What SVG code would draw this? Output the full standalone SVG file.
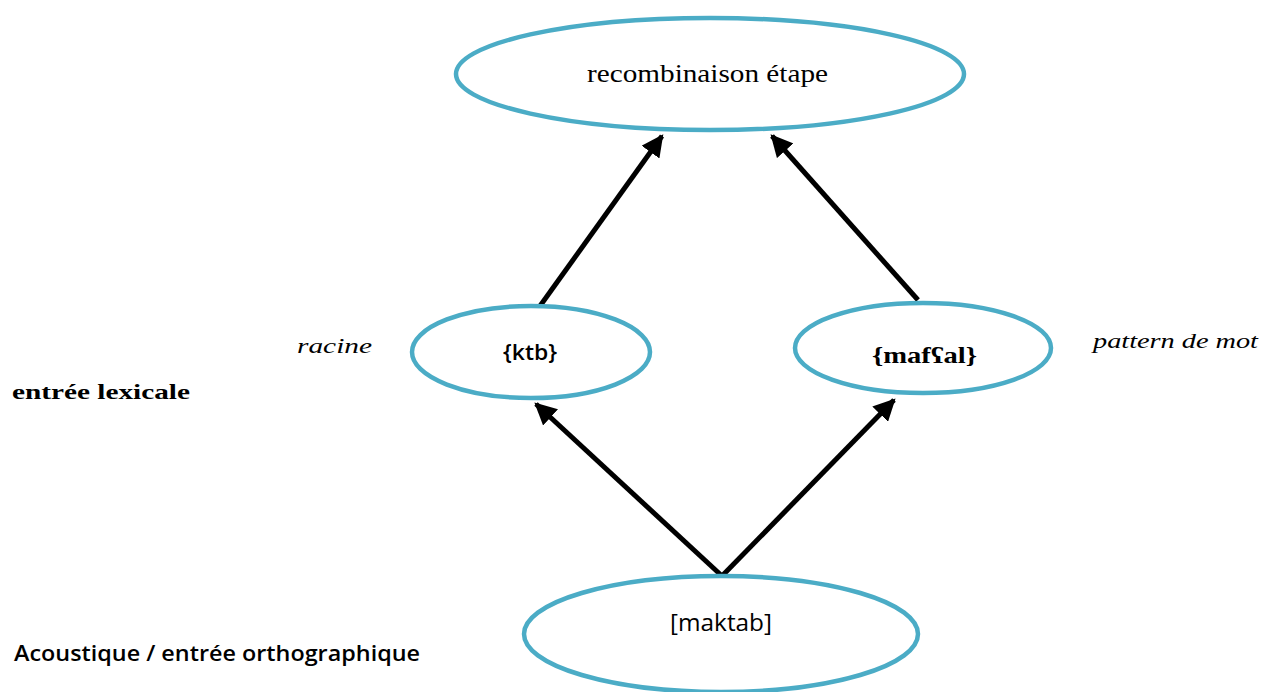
<svg xmlns="http://www.w3.org/2000/svg" width="1270" height="692" viewBox="0 0 1270 692">
<defs>
<marker id="ah" viewBox="0 0 10 10" refX="9" refY="5" markerWidth="4.4" markerHeight="4.4" markerUnits="strokeWidth" orient="auto">
<path d="M0,0 L10,5 L0,10 z" fill="#000"/>
</marker>
</defs>
<style>
.node{fill:#fff;stroke:#4BACC6;stroke-width:4.5}
.edge{stroke:#000;stroke-width:5;fill:none;marker-end:url(#ah)}
.serif{font-family:"Liberation Serif","Times New Roman",serif;fill:#000}
.sans{font-family:"Open Sans","Liberation Sans",Arial,sans-serif;fill:#000}
</style>
<rect width="1270" height="692" fill="#fff"/>
<g id="connectors">
<line class="edge" x1="540" y1="306" x2="662" y2="136"/>
<line class="edge" x1="918" y1="300" x2="772" y2="136"/>
<line class="edge" x1="722" y1="576" x2="536" y2="404"/>
<line class="edge" x1="722" y1="576" x2="894" y2="400"/>
</g>
<g id="node-recombinaison">
<ellipse class="node" cx="710" cy="74" rx="254" ry="56"/>
<text class="serif" x="587" y="82" font-size="25" textLength="241" lengthAdjust="spacingAndGlyphs">recombinaison étape</text>
</g>
<g id="node-ktb">
<ellipse class="node" cx="531" cy="352" rx="119" ry="46"/>
<text class="sans" x="503" y="360" font-size="22" font-weight="600" textLength="54" lengthAdjust="spacingAndGlyphs">{ktb}</text>
</g>
<g id="node-mafal">
<ellipse class="node" cx="923" cy="348" rx="128" ry="45"/>
<text class="serif" x="872" y="363" font-size="24" font-weight="bold" textLength="105" lengthAdjust="spacingAndGlyphs">{mafʕal}</text>
</g>
<g id="node-maktab">
<ellipse class="node" cx="721" cy="634" rx="197" ry="58"/>
<text class="sans" x="670" y="631" font-size="23" textLength="102" lengthAdjust="spacingAndGlyphs">[maktab]</text>
</g>
<g id="labels">
<text class="serif" x="297" y="353" font-size="22" font-style="italic" textLength="75" lengthAdjust="spacingAndGlyphs">racine</text>
<text class="serif" x="12" y="399" font-size="22" font-weight="bold" textLength="178" lengthAdjust="spacingAndGlyphs">entrée lexicale</text>
<text class="sans" x="14" y="661" font-size="21" font-weight="600" textLength="406" lengthAdjust="spacingAndGlyphs">Acoustique / entrée orthographique</text>
<text class="serif" x="1093" y="348" font-size="22" font-style="italic" textLength="165" lengthAdjust="spacingAndGlyphs">pattern de mot</text>
</g>
</svg>
